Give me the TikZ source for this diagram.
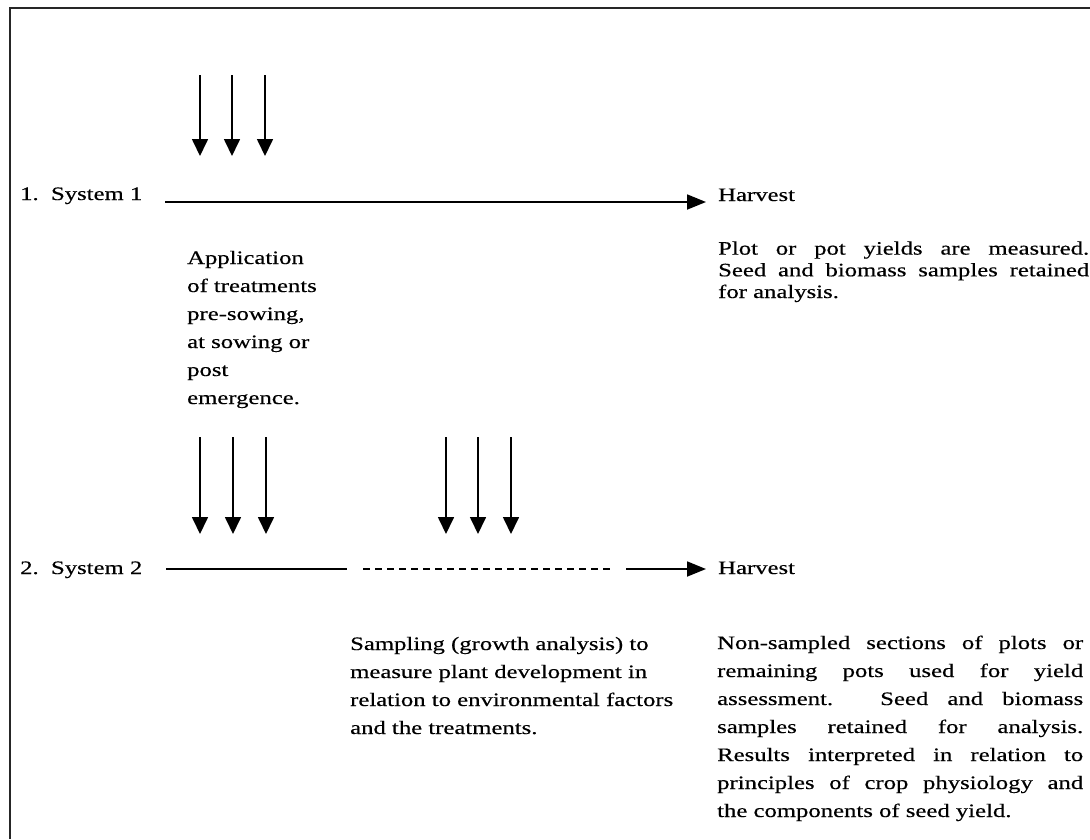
\documentclass[tikz,border=0pt]{standalone}
\usepackage{fontspec}
\setmainfont{Liberation Serif}[FakeStretch=1.3,FakeBold=0.4]
\usetikzlibrary{arrows.meta}

\newcommand{\jline}[2]{\makebox[#1][s]{#2}}

\begin{document}
\begin{tikzpicture}[x=1pt,y=-1pt,
  txt/.style={inner sep=0pt,anchor=base west,align=left,font=\fontsize{19}{28}\selectfont},
  treat/.style={line width=1.7pt,-{Triangle[length=17pt,width=16pt]}},
  flow/.style={line width=1.8pt},
  frame/.style={line width=2.6pt,black!85}]
\useasboundingbox (0,0) rectangle (1090,839);
\draw[frame] (10,839) -- (10,8) -- (1090,8);

% system 1 (multi-line texts sit on their last baseline)
\foreach \x [count=\i] in {200,232,265} {
  \coordinate (top\i) at (\x,75);
  \coordinate (tip\i) at (\x,156);
  \draw[treat] (top\i) -- (tip\i);
}
\node[txt] (sys1) at (20,200) {1.\ \ System 1};
\node[txt] (harv1) at (718,201) {Harvest};
\coordinate (s1start) at (165,202);
\draw[flow,-{Triangle[length=19pt,width=15pt]},shorten >=12pt] (s1start) -- (s1start -| harv1.west);
\node[txt] (apply) at (187,404) {Application\\of treatments\\pre-sowing,\\at sowing or\\post\\emergence.};
\node[txt,font=\fontsize{19}{21.7}\selectfont] (measure) at (718,298)
  {\jline{371pt}{Plot or pot yields are measured.}\\
   \jline{371pt}{Seed and biomass samples retained}\\
   for analysis.};

% system 2
\foreach \x [count=\i] in {200,233,266,446,478,511} {
  \coordinate (mtop\i) at (\x,437);
  \coordinate (mtip\i) at (\x,534);
  \draw[treat] (mtop\i) -- (mtip\i);
}
\node[txt] (sys2) at (20,574) {2.\ \ System 2};
\node[txt] (harv2) at (718,574) {Harvest};
\coordinate (s2a) at (166,569);
\coordinate (s2b) at (347,569);
\coordinate (s2c) at (363,569);
\coordinate (s2d) at (610,569);
\coordinate (s2e) at (626,569);
\draw[flow] (s2a) -- (s2b);
\draw[line width=1.4pt,dash pattern=on 7pt off 5pt] (s2c) -- (s2d);
\draw[flow,-{Triangle[length=19pt,width=15pt]},shorten >=12pt] (s2e) -- (s2e -| harv2.west);
\node[txt] (sampling) at (350,734)
  {Sampling (growth analysis) to\\measure plant development in\\relation to environmental factors\\and the treatments.};
\node[txt] (yieldtxt) at (717,817)
  {\jline{366pt}{Non-sampled sections of plots or}\\
   \jline{366pt}{remaining pots used for yield}\\
   \jline{366pt}{assessment. Seed and biomass}\\
   \jline{366pt}{samples retained for analysis.}\\
   \jline{366pt}{Results interpreted in relation to}\\
   \jline{366pt}{principles of crop physiology and}\\
   the components of seed yield.};
\end{tikzpicture}
\end{document}
